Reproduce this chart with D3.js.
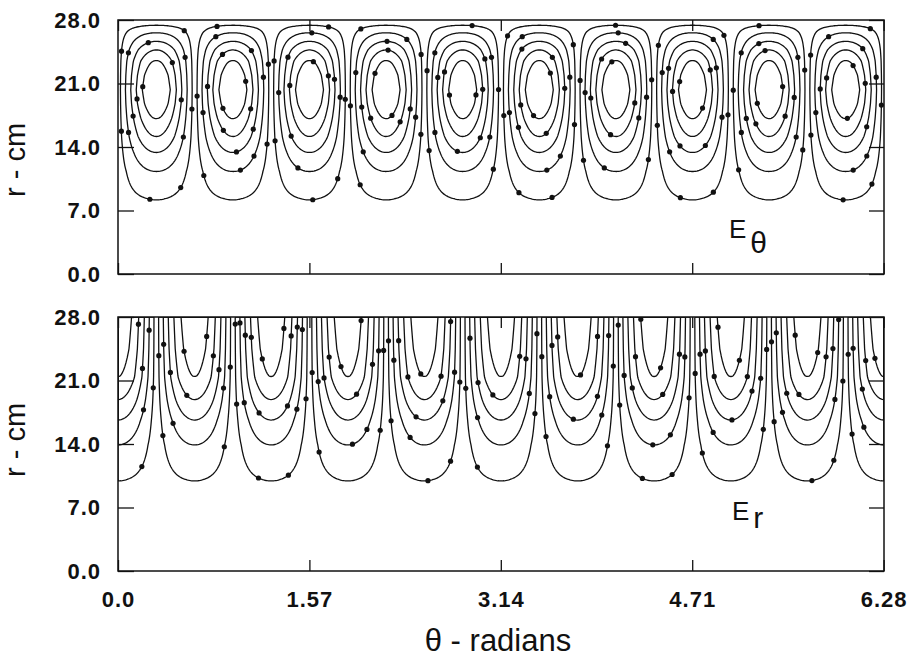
<!DOCTYPE html>
<html>
<head>
<meta charset="utf-8">
<script src="https://cdn.jsdelivr.net/npm/d3@7"></script>
<style>
  body { margin: 0; background: #fff; }
</style>
</head>
<body>
<script>
// Axis ticks and labels
var thetaTicks = [0, 1.57, 3.14, 4.71, 6.28]
var thetaTickLabels = ["0.0", "1.57", "3.14", "4.71", "6.28"]
var rTicks = [0, 7, 14, 21, 28]
var rTickLabels = ["0.0", "7.0", "14.0", "21.0", "28.0"]
var rMax = 28

// azimuthal mode number (10 cells over 2 pi)
var azimuthalMode = 5

var ethetaRadii = [0, 4, 6, 8.2, 11.3, 13.4, 15.15, 17.25, 18.8, 20.3, 21.9, 23.45, 24.7, 25.65, 26.6, 27.4, 28]
var ethetaProfile = [0, 0.006, 0.03, 0.1, 0.3, 0.5, 0.68, 0.85, 0.95, 1.0, 0.95, 0.85, 0.68, 0.5, 0.3, 0.1, 0]
var ethetaLevels = [0.1, 0.3, 0.5, 0.68, 0.84]

var erRadii = [0, 4, 7, 9.95, 13.9, 16.65, 18.9, 21.4, 24.5, 28]
var erProfile = [0, 0.003, 0.025, 0.1, 0.3, 0.5, 0.7, 0.9, 1.0, 1.06]
var erLevels = [0.1, 0.3, 0.5, 0.7, 0.9]

var width = 912, height = 662
var plotLeft = 118, plotRight = 884
var nTheta = 628, nR = 140
var fontFamily = "'Liberation Sans', Arial, Helvetica, sans-serif"

let svg = d3.select("body").append("svg")
    .attr("width", width)
    .attr("height", height)
    .style("font-family", fontFamily)

let xScale = d3.scaleLinear()
    .domain([0, 2 * Math.PI])
    .range([plotLeft, plotRight])

// grid coordinate -> data coordinate
let gridTheta = d3.scaleLinear().domain([0, nTheta]).range([0, 2 * Math.PI])
let gridR = d3.scaleLinear().domain([0, nR]).range([rMax, 0])

// builds the field on a grid: radial profile times |angular factor|
function fieldGrid(profile, angular) {
    let values = new Array(nTheta * nR)
    for (let j = 0; j < nR; j++) {
        let r = gridR(j + 0.5)
        for (let i = 0; i < nTheta; i++) {
            let theta = gridTheta(i + 0.5)
            values[j * nTheta + i] = profile(r) * Math.abs(angular(azimuthalMode * theta))
        }
    }
    return values
}

// restyles the tick labels of an axis group
function tickText(g) {
    g.selectAll("text")
        .attr("font-family", fontFamily)
        .style("font-size", "22px")
        .style("font-weight", "bold")
        .style("letter-spacing", "1px")
        .attr("fill", "#111")
    g.selectAll("line").attr("stroke", "#111").attr("stroke-width", 1.3)
    g.select(".domain").remove()
}

makePanel = function (cfg) {
    let yScale = d3.scaleLinear()
        .domain([0, rMax])
        .range([cfg.bottom, cfg.top])

    let profile = d3.scaleLinear()
        .domain(cfg.radii)
        .range(cfg.profile)
        .clamp(true)

    let values = fieldGrid(profile, cfg.angular)
    let contours = d3.contours()
        .size([nTheta, nR])
        .thresholds(cfg.levels)(values)

    let projection = d3.geoTransform({
        point: function (x, y) {
            this.stream.point(xScale(gridTheta(x)), yScale(gridR(y)))
        }
    })
    let path = d3.geoPath(projection)

    let clipId = "clip-" + cfg.name
    svg.append("clipPath")
        .attr("id", clipId)
        .append("rect")
        .attr("x", plotLeft)
        .attr("y", cfg.top)
        .attr("width", plotRight - plotLeft)
        .attr("height", cfg.bottom - cfg.top)

    let g = svg.append("g").attr("clip-path", "url(#" + clipId + ")")

    let lines = g.selectAll("path")
        .data(contours)
        .enter()
        .append("path")
        .attr("d", path)
        .attr("fill", "none")
        .attr("stroke", "#111")
        .attr("stroke-width", 1.3)

    // small marker dots sitting on the contour lines
    lines.each(function (d, i) {
        let len = this.getTotalLength()
        for (let s = 20 + i * 19; s < len; s += 80) {
            let p = this.getPointAtLength(s)
            if (p.x < plotLeft + 2 || p.x > plotRight - 2 || p.y < cfg.top + 2 || p.y > cfg.bottom - 2) continue
            g.append("circle")
                .attr("cx", p.x)
                .attr("cy", p.y)
                .attr("r", 2.6)
                .attr("fill", "#111")
        }
    })

    // frame
    svg.append("rect")
        .attr("x", plotLeft)
        .attr("y", cfg.top)
        .attr("width", plotRight - plotLeft)
        .attr("height", cfg.bottom - cfg.top)
        .attr("fill", "none")
        .attr("stroke", "#111")
        .attr("stroke-width", 1.5)

    // left axis with labels, ticks pointing inward
    svg.append("g")
        .attr("transform", "translate(" + plotLeft + ",0)")
        .call(d3.axisLeft(yScale)
            .tickValues(rTicks)
            .tickSize(-16)
            .tickPadding(17)
            .tickFormat((d, i) => rTickLabels[i]))
        .call(tickText)

    svg.append("g")
        .attr("transform", "translate(" + plotRight + ",0)")
        .call(d3.axisRight(yScale).tickValues(rTicks).tickSize(-15).tickFormat(""))
        .call(tickText)

    svg.append("g")
        .attr("transform", "translate(0," + cfg.top + ")")
        .call(d3.axisTop(xScale).tickValues(thetaTicks).tickSize(-11).tickFormat(""))
        .call(tickText)

    svg.append("g")
        .attr("transform", "translate(0," + cfg.bottom + ")")
        .call(d3.axisBottom(xScale)
            .tickValues(thetaTicks)
            .tickSize(-11)
            .tickPadding(20)
            .tickFormat((d, i) => cfg.xLabels ? thetaTickLabels[i] : ""))
        .call(tickText)

    // y axis title
    svg.append("text")
        .attr("text-anchor", "middle")
        .attr("transform", "translate(25," + cfg.titleY + ") rotate(-90)")
        .style("font-size", "29px")
        .attr("fill", "#111")
        .text("r - cm")

    // field component label
    let lab = svg.append("text")
        .attr("x", cfg.labelX)
        .attr("y", cfg.labelY)
        .attr("fill", "#111")
        .style("font-size", "26px")
    lab.append("tspan").text("E")
    lab.append("tspan")
        .attr("dx", 4)
        .attr("dy", cfg.subDy)
        .style("font-size", "30px")
        .text(cfg.sub)
}

makePanel({
    name: "etheta", top: 20, bottom: 274,
    radii: ethetaRadii, profile: ethetaProfile, levels: ethetaLevels,
    angular: Math.sin, xLabels: false, titleY: 160,
    labelX: 729, labelY: 238, sub: "\u03b8", subDy: 15
})

makePanel({
    name: "er", top: 317, bottom: 571,
    radii: erRadii, profile: erProfile, levels: erLevels,
    angular: Math.cos, xLabels: true, titleY: 440,
    labelX: 732, labelY: 520, sub: "r", subDy: 8
})

svg.append("text")
    .attr("text-anchor", "middle")
    .attr("x", 498)
    .attr("y", 651)
    .attr("fill", "#111")
    .style("font-size", "31px")
    .text("\u03b8 - radians")
</script>
</body>
</html>
